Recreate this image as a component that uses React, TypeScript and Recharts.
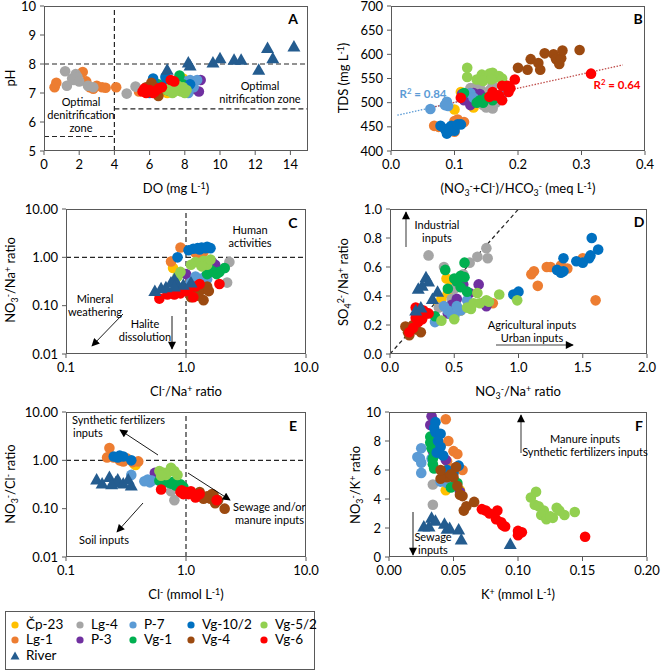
import React from 'react';
import { ScatterChart, Scatter, XAxis, YAxis, ReferenceLine } from 'recharts';

type P = [number, number];

// series in legend / drawing order
const SERIES = ['Čp-23', 'Lg-1', 'Lg-4', 'P-3', 'P-7', 'Vg-1', 'Vg-10/2', 'Vg-4', 'Vg-5/2', 'Vg-6', 'River'];
const COLORS: Record<string, string> = {
  'Čp-23': '#FFC000',
  'Lg-1': '#ED7D31',
  'Lg-4': '#A5A5A5',
  'P-3': '#7030A0',
  'P-7': '#5B9BD5',
  'Vg-1': '#00B050',
  'Vg-10/2': '#0070C0',
  'Vg-4': '#9C4A10',
  'Vg-5/2': '#92D050',
  'Vg-6': '#FF0000',
  River: '#245C8F',
};
const LEGEND_ROWS = [
  ['Čp-23', 'Lg-4', 'P-7', 'Vg-10/2', 'Vg-5/2'],
  ['Lg-1', 'P-3', 'Vg-1', 'Vg-4', 'Vg-6'],
  ['River'],
];

// A: DO vs pH
const doPh: Record<string, P[]> = {
  'Lg-1': [[0.6, 7.2], [0.7, 7.35], [2.2, 7.72], [2.4, 7.4], [2.6, 7.2], [2.8, 7.15], [3.0, 7.25], [3.3, 7.2], [3.5, 7.18], [4.1, 7.2], [5.4, 7.05]],
  'Lg-4': [[1.2, 7.75], [1.3, 7.25], [1.6, 7.5], [1.7, 7.45], [1.8, 7.65], [1.9, 7.55], [2.0, 7.4], [2.5, 7.25], [2.8, 7.2], [4.7, 6.98], [5.2, 7.22]],
  'Vg-10/2': [[6.2, 7.5], [6.9, 7.55], [7.0, 7.4], [6.5, 7.2], [7.2, 7.3], [8.3, 7.3], [6.0, 7.0]],
  'P-7': [[8.0, 7.4], [8.3, 7.45], [8.7, 7.45], [8.5, 7.2], [7.8, 7.2], [8.2, 7.0], [7.5, 7.1]],
  'P-3': [[8.9, 7.45], [8.8, 7.05], [8.3, 7.1], [7.6, 7.2], [7.0, 7.15]],
  'Vg-1': [[7.7, 7.6], [6.5, 7.3], [7.0, 7.1], [7.9, 7.3]],
  'Vg-4': [[6.1, 7.35], [6.5, 6.9], [6.3, 7.2], [6.0, 7.1], [5.8, 7.2]],
  'Vg-6': [[5.6, 7.05], [5.8, 7.0], [6.0, 7.1], [6.3, 7.05], [6.7, 7.2], [7.2, 7.45], [7.4, 7.4], [5.7, 7.15], [6.5, 7.15], [6.2, 7.0]],
  'Vg-5/2': [[7.0, 7.1], [7.3, 7.0], [7.5, 7.15], [7.7, 7.1], [7.8, 7.05], [8.0, 7.0], [7.2, 7.2], [7.6, 7.25], [8.1, 7.1], [7.4, 7.05], [7.9, 7.2]],
  'Čp-23': [[7.0, 7.0], [7.9, 7.5], [6.8, 7.1]],
  River: [[7.0, 7.8], [8.2, 8.05], [8.3, 7.95], [9.6, 8.05], [10.0, 8.2], [10.8, 8.15], [11.2, 8.15], [12.2, 7.8], [12.7, 8.55], [13.0, 8.2], [14.2, 8.6]],
};

// B: (NO3+Cl)/HCO3 vs TDS
const ratioTds: Record<string, P[]> = {
  'Vg-4': [[0.2, 572], [0.215, 568], [0.22, 590], [0.232, 582], [0.235, 568], [0.242, 602], [0.256, 600], [0.26, 590], [0.265, 580], [0.268, 592], [0.27, 608], [0.297, 609]],
  'Vg-6': [[0.315, 560], [0.195, 548], [0.175, 535], [0.183, 535], [0.188, 530], [0.185, 522], [0.175, 505], [0.16, 522], [0.155, 512], [0.165, 515], [0.11, 510], [0.17, 515]],
  'Vg-5/2': [[0.12, 572], [0.12, 553], [0.135, 548], [0.143, 558], [0.15, 555], [0.155, 560], [0.16, 562], [0.165, 552], [0.17, 555], [0.175, 550], [0.145, 545], [0.158, 548]],
  'P-7': [[0.062, 487], [0.085, 495], [0.088, 502], [0.09, 493], [0.125, 520], [0.175, 518], [0.13, 510]],
  'Vg-10/2': [[0.078, 452], [0.085, 445], [0.09, 440], [0.092, 448], [0.095, 452], [0.1, 442], [0.105, 455], [0.11, 455], [0.088, 436]],
  'Lg-1': [[0.068, 452], [0.075, 450], [0.1, 462], [0.105, 465], [0.115, 460], [0.1, 440]],
  'Lg-4': [[0.13, 530], [0.125, 530], [0.14, 530], [0.15, 490], [0.16, 488], [0.145, 495], [0.165, 500], [0.155, 525], [0.16, 535], [0.135, 520]],
  'P-3': [[0.112, 518], [0.115, 505], [0.13, 520], [0.125, 495], [0.135, 505], [0.14, 518]],
  'Vg-1': [[0.115, 520], [0.14, 505], [0.145, 500], [0.15, 510], [0.16, 505], [0.165, 515], [0.135, 500], [0.17, 510]],
  'Čp-23': [[0.1, 486], [0.11, 522], [0.13, 490], [0.15, 515]],
};
const trendP7: P[] = [[0.01, 474], [0.17, 521]];
const trendVg6: P[] = [[0.06, 489], [0.365, 578]];

// C: Cl/Na vs NO3/Na
const clNa: Record<string, P[]> = {
  'Vg-10/2': [[1.05, 1.4], [1.15, 1.5], [1.25, 1.55], [1.35, 1.6], [1.45, 1.55], [1.6, 1.55], [0.85, 1.0], [1.3, 1.45], [1.5, 1.65]],
  'Lg-1': [[0.9, 1.6], [0.75, 0.82], [1.2, 1.25], [1.4, 1.3], [1.3, 1.15]],
  'Čp-23': [[0.78, 0.6]],
  'Vg-5/2': [[1.2, 0.8], [1.3, 0.75], [1.4, 0.85], [1.5, 0.7], [1.6, 0.9], [0.9, 0.5], [1.35, 0.65], [0.85, 0.4], [1.1, 0.7]],
  'Lg-4': [[2.3, 0.8], [2.2, 0.3], [2.1, 0.6]],
  'P-3': [[1.65, 0.8], [1.75, 0.7], [1.0, 0.45], [1.8, 0.55]],
  'Vg-1': [[2.1, 0.6], [1.9, 0.5], [1.7, 0.5], [1.5, 0.45], [1.6, 0.55], [1.8, 0.45]],
  'P-7': [[1.2, 0.4], [1.3, 0.35], [1.4, 0.38], [1.1, 0.3], [1.5, 0.35]],
  'Vg-6': [[0.6, 0.14], [0.7, 0.17], [0.8, 0.17], [0.9, 0.18], [1.0, 0.2], [1.2, 0.25], [1.3, 0.28], [1.9, 0.28], [1.15, 0.15], [1.05, 0.22]],
  'Vg-4': [[1.1, 0.15], [1.2, 0.18], [1.3, 0.2], [1.4, 0.22], [1.5, 0.25], [1.4, 0.13], [1.25, 0.16], [1.55, 0.2]],
  River: [[0.55, 0.2], [0.62, 0.23], [0.68, 0.24], [0.75, 0.3], [0.8, 0.35], [0.85, 0.28], [0.95, 0.27], [1.1, 0.3], [0.8, 0.25]],
};

// D: NO3/Na vs SO4/Na
const no3So4: Record<string, P[]> = {
  'Vg-10/2': [[1.57, 0.8], [1.62, 0.72], [1.56, 0.68], [1.55, 0.66], [1.45, 0.64], [1.35, 0.66], [1.5, 0.63], [1.3, 0.58], [1.33, 0.56], [1.35, 0.57], [0.96, 0.41], [1.0, 0.43]],
  'Lg-1': [[1.1, 0.55], [1.12, 0.57], [1.22, 0.6], [1.25, 0.6], [1.15, 0.47], [1.33, 0.61], [1.38, 0.59], [1.5, 0.66], [1.6, 0.37], [0.8, 0.35]],
  'Lg-4': [[0.3, 0.68], [0.42, 0.6], [0.62, 0.63], [0.68, 0.67], [0.75, 0.73], [0.76, 0.66], [0.5, 0.45], [0.48, 0.38], [0.38, 0.32], [0.57, 0.55]],
  'Vg-1': [[0.58, 0.63], [0.43, 0.58], [0.5, 0.52], [0.55, 0.54], [0.58, 0.53], [0.45, 0.45], [0.6, 0.43], [0.52, 0.5], [0.35, 0.26], [0.55, 0.46]],
  'Čp-23': [[0.44, 0.52], [0.4, 0.38], [0.45, 0.42], [0.48, 0.48], [0.38, 0.35], [0.55, 0.3]],
  'P-3': [[0.57, 0.48], [0.69, 0.48], [0.62, 0.42], [0.52, 0.38], [0.48, 0.34], [0.74, 0.36], [0.75, 0.33], [0.45, 0.28]],
  'P-7': [[0.42, 0.33], [0.45, 0.3], [0.5, 0.26], [0.55, 0.3], [0.6, 0.37], [0.35, 0.22], [0.52, 0.33], [0.48, 0.27]],
  'Vg-5/2': [[0.68, 0.42], [0.6, 0.32], [0.65, 0.35], [0.7, 0.35], [0.75, 0.37], [0.77, 0.36], [0.85, 0.41], [0.99, 0.37], [0.5, 0.24], [0.4, 0.23], [0.63, 0.31]],
  'Vg-6': [[0.2, 0.32], [0.22, 0.28], [0.24, 0.26], [0.26, 0.3], [0.28, 0.28], [0.2, 0.25], [0.22, 0.22], [0.25, 0.24], [0.3, 0.28], [0.18, 0.18], [0.15, 0.15], [0.23, 0.31]],
  'Vg-4': [[0.12, 0.19], [0.15, 0.13], [0.18, 0.2], [0.2, 0.17], [0.24, 0.15], [0.14, 0.15]],
  River: [[0.22, 0.45], [0.25, 0.47], [0.28, 0.53], [0.3, 0.5], [0.37, 0.43], [0.33, 0.38], [0.2, 0.3], [0.24, 0.32]],
};

// E: Cl vs NO3/Cl
const clNo3: Record<string, P[]> = {
  'Lg-1': [[0.23, 1.8], [0.22, 1.15], [0.28, 1.0], [0.32, 1.1], [0.3, 0.95], [0.4, 0.95], [0.36, 0.92], [0.25, 1.15]],
  'Vg-10/2': [[0.25, 1.2], [0.28, 1.25], [0.3, 1.2], [0.35, 1.0], [0.27, 1.15]],
  'Čp-23': [[0.38, 0.8], [0.37, 0.85]],
  River: [[0.18, 0.4], [0.2, 0.33], [0.23, 0.45], [0.26, 0.35], [0.27, 0.4], [0.3, 0.33], [0.24, 0.32], [0.35, 0.3], [0.33, 0.4]],
  'P-7': [[0.35, 0.5], [0.48, 0.4], [0.5, 0.35], [0.52, 0.38], [0.45, 0.37]],
  'Vg-5/2': [[0.6, 0.6], [0.65, 0.55], [0.72, 0.58], [0.75, 0.7], [0.8, 0.6], [0.85, 0.5], [0.68, 0.5], [0.62, 0.48]],
  'P-3': [[0.55, 0.55], [0.58, 0.45], [0.6, 0.42]],
  'Vg-1': [[0.6, 0.38], [0.7, 0.35], [0.75, 0.33], [0.82, 0.3], [0.9, 0.32], [0.65, 0.4], [0.78, 0.36], [0.95, 0.28]],
  'Lg-4': [[0.75, 0.23], [0.8, 0.15], [0.9, 0.25]],
  'Vg-6': [[0.62, 0.25], [0.9, 0.22], [0.95, 0.2], [1.0, 0.22], [1.05, 0.2], [1.1, 0.23], [1.2, 0.17], [1.8, 0.15], [1.3, 0.2], [0.92, 0.24]],
  'Vg-4': [[1.3, 0.22], [1.5, 0.18], [1.6, 0.16], [1.7, 0.19], [1.75, 0.13], [2.1, 0.1], [1.65, 0.2], [1.4, 0.16], [1.85, 0.15]],
};

// F: K vs NO3/K
const kNo3: Record<string, P[]> = {
  'Vg-5/2': [[0.114, 4.5], [0.11, 4.1], [0.113, 3.6], [0.116, 3.5], [0.12, 3.2], [0.118, 2.9], [0.122, 2.6], [0.127, 2.7], [0.13, 3.4], [0.132, 3.2], [0.136, 2.9], [0.144, 3.1], [0.125, 2.8]],
  'Vg-6': [[0.075, 3.2], [0.078, 3.0], [0.084, 3.2], [0.083, 2.6], [0.087, 2.4], [0.09, 2.1], [0.088, 2.2], [0.1, 1.8], [0.1, 1.5], [0.103, 1.7], [0.152, 1.4], [0.072, 3.3]],
  'Vg-4': [[0.058, 3.2], [0.06, 3.5], [0.066, 3.8], [0.055, 4.3], [0.057, 4.2], [0.053, 4.9], [0.05, 5.5], [0.045, 5.5], [0.04, 5.4], [0.04, 6.0], [0.052, 6.2], [0.048, 5.7]],
  'Vg-10/2': [[0.035, 8.9], [0.036, 8.6], [0.04, 8.5], [0.038, 8.0], [0.04, 7.6], [0.037, 7.2], [0.054, 6.3], [0.045, 6.0], [0.05, 5.8], [0.042, 7.0], [0.036, 9.3]],
  'Lg-1': [[0.044, 9.5], [0.046, 8.0], [0.05, 7.3], [0.053, 7.1], [0.057, 6.0], [0.045, 6.6], [0.048, 6.1], [0.04, 7.7]],
  'P-7': [[0.022, 6.9], [0.024, 6.8], [0.025, 6.5], [0.025, 5.8], [0.025, 7.5], [0.033, 6.8], [0.045, 5.1], [0.04, 5.2], [0.046, 5.3]],
  'Vg-1': [[0.032, 8.3], [0.032, 7.9], [0.033, 7.5], [0.035, 7.0], [0.034, 6.4], [0.035, 6.1], [0.048, 4.8], [0.053, 5.1], [0.034, 6.8]],
  'P-3': [[0.033, 9.7], [0.032, 9.1], [0.034, 7.3], [0.044, 6.7], [0.05, 5.3], [0.055, 4.5], [0.036, 8.0]],
  'Lg-4': [[0.034, 5.0], [0.034, 3.6], [0.046, 5.8], [0.05, 6.0], [0.038, 7.5]],
  'Čp-23': [[0.044, 4.6], [0.055, 4.6], [0.047, 5.5]],
  River: [[0.027, 2.1], [0.031, 2.1], [0.033, 2.7], [0.036, 2.5], [0.043, 2.3], [0.045, 1.95], [0.047, 2.0], [0.054, 1.9], [0.056, 1.2], [0.094, 0.9]],
};

const AX = '#595959';
const FONT = 'Lato, "Open Sans", sans-serif';
const dash = { stroke: '#262626', strokeDasharray: '5 3', strokeWidth: 1.2 };

const toXY = (pts: P[]) => pts.map(([x, y]) => ({ x, y }));

const Dot = (color: string) => (p: any) => <circle cx={p.cx} cy={p.cy} r={5.3} fill={color} />;
const Tri = (color: string) => (p: any) => (
  <polygon points={`${p.cx},${p.cy - 6.5} ${p.cx - 6.5},${p.cy + 5} ${p.cx + 6.5},${p.cy + 5}`} fill={color} />
);

type AxisCfg = { domain: [number, number]; ticks: number[]; fmt: (v: number) => string; log?: boolean };

const YW = 44, ML = 4, MT = 12, MR = 22, XH = 26, MB = 28;

function Panel({ rect, x, y, data, children }: { rect: number[]; x: AxisCfg; y: AxisCfg; data: Record<string, P[]>; children?: React.ReactNode }) {
  const [px, py, pw, ph] = rect;
  const tick = { fontSize: 13, fill: '#000', fontFamily: FONT };
  return (
    <div style={{ position: 'absolute', left: px - YW - ML, top: py - MT }}>
      <ScatterChart width={pw + YW + ML + MR} height={ph + MT + XH + MB} margin={{ top: MT, right: MR, bottom: MB, left: ML }}>
        <XAxis type="number" dataKey="x" domain={x.domain} ticks={x.ticks} scale={x.log ? 'log' : 'linear'} allowDataOverflow
          tickFormatter={x.fmt} height={XH} axisLine={false} tickLine={{ stroke: AX }} tickSize={4} tickMargin={5} tick={tick} interval={0} />
        <YAxis type="number" dataKey="y" domain={y.domain} ticks={y.ticks} scale={y.log ? 'log' : 'linear'} allowDataOverflow
          tickFormatter={y.fmt} width={YW} axisLine={false} tickLine={{ stroke: AX }} tickSize={4} tickMargin={4} tick={tick} interval={0} />
        {children}
        {SERIES.filter((s) => data[s]).map((s) => (
          <Scatter key={s} name={s} data={toXY(data[s])} isAnimationActive={false}
            shape={s === 'River' ? Tri(COLORS[s]) : Dot(COLORS[s])} />
        ))}
      </ScatterChart>
      <div style={{ position: 'absolute', left: YW + ML, top: MT, width: pw, height: ph, border: `1px solid ${AX}`, boxSizing: 'border-box', pointerEvents: 'none' }} />
    </div>
  );
}

const f0 = (v: number) => String(v);
const f1 = (v: number) => v.toFixed(1);
const f2 = (v: number) => v.toFixed(2);
const logX: AxisCfg = { domain: [0.1, 10], ticks: [0.1, 1, 10], fmt: f1, log: true };
const logY: AxisCfg = { domain: [0.01, 10], ticks: [0.01, 0.1, 1, 10], fmt: f2, log: true };

const Sup = ({ children }: { children: React.ReactNode }) => (
  <span style={{ fontSize: '0.68em', position: 'relative', top: '-0.5em' }}>{children}</span>
);
const Sub = ({ children }: { children: React.ReactNode }) => (
  <span style={{ fontSize: '0.68em', position: 'relative', top: '0.3em' }}>{children}</span>
);

function T({ x, y, children, size = 13, rot = false, bold = false, color = '#000', align = 'center' }: any) {
  const tr = align === 'left' ? 'translate(0,-50%)' : 'translate(-50%,-50%)';
  return (
    <div style={{ position: 'absolute', left: x, top: y, transform: tr + (rot ? ' rotate(-90deg)' : ''), whiteSpace: 'nowrap', fontSize: size, fontWeight: bold ? 700 : 400, color, lineHeight: 1, fontFamily: FONT, textAlign: align }}>
      {children}
    </div>
  );
}

// annotation arrows in page pixels: x1, y1, x2, y2, line colour
const ARROWS: [number, number, number, number, string][] = [
  [123, 314, 92, 346, '#000'],
  [172, 316, 172, 349, '#000'],
  [406, 247, 406, 212, '#808080'],
  [496, 345, 573, 345, '#808080'],
  [158, 455, 120, 430, '#000'],
  [188, 473, 230, 500, '#000'],
  [143, 503, 117, 532, '#000'],
  [521, 453, 521, 415, '#808080'],
  [413, 512, 413, 555, '#000'],
];

const AN = 11;
const LEG_MARK_X = [15, 80, 133, 191, 264];
const LEG_ROW_Y = [625, 640, 656];

export default function App() {
  return (
    <div style={{ position: 'absolute', left: 0, top: 0, width: 661, height: 672, background: '#fff', fontFamily: FONT }}>
      <Panel rect={[44, 6, 264, 145]} data={doPh}
        x={{ domain: [0, 15], ticks: [0, 2, 4, 6, 8, 10, 12, 14], fmt: f0 }}
        y={{ domain: [5, 10], ticks: [5, 6, 7, 8, 9, 10], fmt: f0 }}>
        <ReferenceLine x={4} {...dash} />
        <ReferenceLine y={8} {...dash} />
        <ReferenceLine segment={[{ x: 4, y: 6.45 }, { x: 15, y: 6.45 }]} {...dash} />
        <ReferenceLine segment={[{ x: 0, y: 5.5 }, { x: 4, y: 5.5 }]} {...dash} />
      </Panel>

      <Panel rect={[391, 6, 254, 145]} data={ratioTds}
        x={{ domain: [0, 0.4], ticks: [0, 0.1, 0.2, 0.3, 0.4], fmt: f1 }}
        y={{ domain: [400, 700], ticks: [400, 450, 500, 550, 600, 650, 700], fmt: f0 }}>
        <Scatter data={toXY(trendP7)} isAnimationActive={false} line={{ stroke: '#5B9BD5', strokeDasharray: '1.5 1.5', strokeWidth: 1.3 }} shape={() => <g />} />
        <Scatter data={toXY(trendVg6)} isAnimationActive={false} line={{ stroke: '#C0504D', strokeDasharray: '1.5 1.5', strokeWidth: 1.3 }} shape={() => <g />} />
      </Panel>

      <Panel rect={[66, 209, 240, 145]} data={clNa} x={logX} y={logY}>
        <ReferenceLine x={1} {...dash} />
        <ReferenceLine y={1} {...dash} />
      </Panel>

      <Panel rect={[390, 209, 257, 145]} data={no3So4}
        x={{ domain: [0, 2], ticks: [0, 0.5, 1, 1.5, 2], fmt: f1 }}
        y={{ domain: [0, 1], ticks: [0, 0.2, 0.4, 0.6, 0.8, 1], fmt: f1 }}>
        <ReferenceLine segment={[{ x: 0, y: 0 }, { x: 1, y: 1 }]} {...dash} strokeDasharray="4 3" />
      </Panel>

      <Panel rect={[66, 412, 240, 145]} data={clNo3} x={logX} y={logY}>
        <ReferenceLine x={1} {...dash} />
        <ReferenceLine y={1} {...dash} />
      </Panel>

      <Panel rect={[389, 412, 258, 145]} data={kNo3}
        x={{ domain: [0, 0.2], ticks: [0, 0.05, 0.1, 0.15, 0.2], fmt: f2 }}
        y={{ domain: [0, 10], ticks: [0, 2, 4, 6, 8, 10], fmt: f0 }} />

      <svg width={661} height={672} style={{ position: 'absolute', left: 0, top: 0, pointerEvents: 'none' }}>
        <defs>
          <marker id="ah" viewBox="0 0 10 10" refX="9" refY="5" markerWidth="9" markerHeight="8" markerUnits="userSpaceOnUse" orient="auto">
            <path d="M0,0 L10,5 L0,10 z" fill="#000" />
          </marker>
        </defs>
        {ARROWS.map(([x1, y1, x2, y2, c], i) => (
          <line key={i} x1={x1} y1={y1} x2={x2} y2={y2} stroke={c} strokeWidth={c === '#000' ? 0.9 : 1.6} markerEnd="url(#ah)" />
        ))}
      </svg>

      {/* panel letters */}
      <T x={293} y={19} size={14} bold>A</T>
      <T x={638} y={19} size={14} bold>B</T>
      <T x={293} y={223} size={14} bold>C</T>
      <T x={639} y={222} size={14} bold>D</T>
      <T x={293} y={426} size={14} bold>E</T>
      <T x={639} y={426} size={14} bold>F</T>

      {/* axis titles */}
      <T x={176} y={188}>DO (mg L<Sup>-1</Sup>)</T>
      <T x={10} y={78} rot>pH</T>
      <T x={518} y={188}>(NO<Sub>3</Sub><Sup>-</Sup>+Cl<Sup>-</Sup>)/HCO<Sub>3</Sub><Sup>-</Sup> (meq L<Sup>-1</Sup>)</T>
      <T x={343} y={78} rot>TDS (mg L<Sup>-1</Sup>)</T>
      <T x={186} y={391}>Cl<Sup>-</Sup>/Na<Sup>+</Sup> ratio</T>
      <T x={10} y={280} rot>NO<Sub>3</Sub><Sup>-</Sup>/Na<Sup>+</Sup> ratio</T>
      <T x={518} y={391}>NO<Sub>3</Sub><Sup>-</Sup>/Na<Sup>+</Sup> ratio</T>
      <T x={343} y={282} rot>SO<Sub>4</Sub><Sup>2-</Sup>/Na<Sup>+</Sup> ratio</T>
      <T x={186} y={594}>Cl<Sup>-</Sup> (mmol L<Sup>-1</Sup>)</T>
      <T x={10} y={484} rot>NO<Sub>3</Sub><Sup>-</Sup>/Cl<Sup>-</Sup> ratio</T>
      <T x={518} y={594}>K<Sup>+</Sup> (mmol L<Sup>-1</Sup>)</T>
      <T x={355} y={485} rot>NO<Sub>3</Sub><Sup>-</Sup>/K<Sup>+</Sup> ratio</T>

      {/* annotations */}
      <T x={81} y={101} size={AN}>Optimal</T>
      <T x={81} y={114} size={AN}>denitrification</T>
      <T x={81} y={127} size={AN}>zone</T>
      <T x={260} y={85} size={AN}>Optimal</T>
      <T x={260} y={98} size={AN}>nitrification zone</T>
      <T x={423} y={94} size={11.5} bold color="#5B9BD5">R<Sup>2</Sup> = 0.84</T>
      <T x={617} y={85} size={11.5} bold color="#FF0000">R<Sup>2</Sup> = 0.64</T>
      <T x={250} y={229} size={AN}>Human</T>
      <T x={250} y={242} size={AN}>activities</T>
      <T x={95} y={298} size={AN}>Mineral</T>
      <T x={95} y={311} size={AN}>weathering</T>
      <T x={145} y={323} size={AN}>Halite</T>
      <T x={145} y={336} size={AN}>dissolution</T>
      <T x={437} y={224} size={AN}>Industrial</T>
      <T x={437} y={237} size={AN}>inputs</T>
      <T x={532} y={324} size={AN}>Agricultural inputs</T>
      <T x={532} y={337} size={AN}>Urban inputs</T>
      <T x={72} y={419} size={AN} align="left">Synthetic fertilizers</T>
      <T x={73} y={432} size={AN} align="left">inputs</T>
      <T x={233} y={506} size={AN} align="left">Sewage and/or</T>
      <T x={235} y={519} size={AN} align="left">manure inputs</T>
      <T x={104} y={539} size={AN}>Soil inputs</T>
      <T x={585} y={438} size={AN}>Manure inputs</T>
      <T x={585} y={451} size={AN}>Synthetic fertilizers inputs</T>
      <T x={433} y={536} size={AN}>Sewage</T>
      <T x={433} y={549} size={AN}>inputs</T>

      {/* legend */}
      <div style={{ position: 'absolute', left: 5, top: 611, width: 310, height: 59, border: `1px solid ${AX}`, boxSizing: 'border-box' }} />
      {LEGEND_ROWS.map((row, r) =>
        row.map((s, c) => {
          const mx = LEG_MARK_X[c];
          const ty = LEG_ROW_Y[r];
          return (
            <React.Fragment key={s}>
              <svg width={12} height={12} style={{ position: 'absolute', left: mx - 6, top: ty - 6 }}>
                {s === 'River'
                  ? <polygon points="6,1.5 1.5,9.5 10.5,9.5" fill={COLORS[s]} />
                  : <circle cx={6} cy={6} r={3.6} fill={COLORS[s]} />}
              </svg>
              <T x={mx + 11} y={ty} size={13.5} align="left">{s}</T>
            </React.Fragment>
          );
        })
      )}
    </div>
  );
}
